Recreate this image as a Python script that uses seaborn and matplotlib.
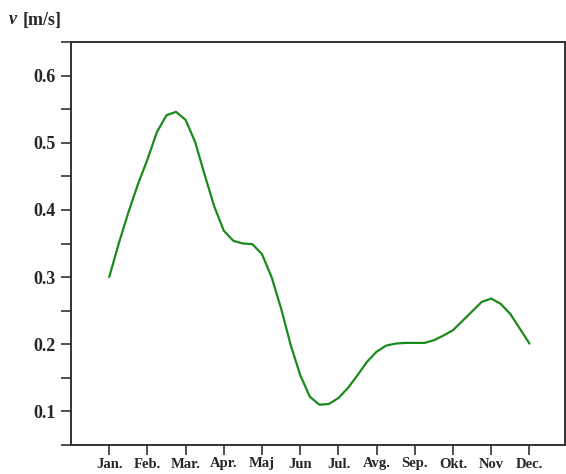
import numpy as np
import pandas as pd
import matplotlib
matplotlib.use('Agg')
import matplotlib.pyplot as plt
from matplotlib.ticker import MultipleLocator
import seaborn as sns

# month labels (as printed on the chart)
months = ['Jan.', 'Feb.', 'Mar.', 'Apr.', 'Maj', 'Jun', 'Jul.', 'Avg.', 'Sep.', 'Okt.', 'Nov', 'Dec.']

# curve every quarter month (1 = Jan), speed in m/s
month_pos = [1.0, 1.25, 1.5, 1.75, 2.0, 2.25, 2.5, 2.75, 3.0, 3.25, 3.5, 3.75,
             4.0, 4.25, 4.5, 4.75, 5.0, 5.25, 5.5, 5.75, 6.0, 6.25, 6.5, 6.75,
             7.0, 7.25, 7.5, 7.75, 8.0, 8.25, 8.5, 8.75, 9.0, 9.25, 9.5, 9.75,
             10.0, 10.25, 10.5, 10.75, 11.0, 11.25, 11.5, 11.75, 12.0]
speed = [0.300, 0.350, 0.396, 0.438, 0.475, 0.516, 0.541, 0.546, 0.534, 0.501, 0.452, 0.405,
         0.369, 0.354, 0.350, 0.349, 0.334, 0.300, 0.253, 0.199, 0.154, 0.122, 0.110, 0.111,
         0.120, 0.135, 0.154, 0.174, 0.189, 0.198, 0.201, 0.202, 0.202, 0.202, 0.206, 0.213,
         0.221, 0.235, 0.249, 0.263, 0.268, 0.260, 0.245, 0.223, 0.201]

df = pd.DataFrame({'month': month_pos, 'v': speed})

sns.set_style('ticks')
plt.rcParams['font.family'] = ['Liberation Serif', 'DejaVu Serif']
plt.rcParams['font.weight'] = 'bold'

fig = plt.figure(figsize=(5.66, 4.74), dpi=100)
ax = fig.add_axes([71 / 566, 29 / 474, 494 / 566, 403 / 474])

sns.lineplot(data=df, x='month', y='v', color='#1a8a1a', linewidth=1.6, ax=ax)

ax.set_xlim(0, 12.93)
ax.set_ylim(0.05, 0.65)
ax.set_xticks(range(1, 13))
ax.set_xticklabels(months)
ax.set_yticks([0.1, 0.2, 0.3, 0.4, 0.5, 0.6])
ax.yaxis.set_minor_locator(MultipleLocator(0.05))
ax.set_xlabel('')
ax.set_ylabel('')

for side in ['left', 'bottom', 'top', 'right']:
    ax.spines[side].set_visible(True)
    ax.spines[side].set_color('#333333')
    ax.spines[side].set_linewidth(1.4)

ax.tick_params(axis='both', which='both', direction='out', color='#333333', width=1.2)
ax.tick_params(axis='y', which='major', length=7, labelsize=13, pad=4)
ax.tick_params(axis='y', which='minor', length=7)
ax.tick_params(axis='x', which='major', length=7, labelsize=10.5, pad=2)
ax.tick_params(top=False, right=False)
for lbl in ax.get_xticklabels() + ax.get_yticklabels():
    lbl.set_fontweight('bold')

fig.text(9 / 566, 1 - 20 / 474, 'v', fontsize=13, fontstyle='italic', fontweight='bold',
         va='center', ha='left')
fig.text(23 / 566, 1 - 20 / 474, '[m/s]', fontsize=13, fontweight='bold', va='center', ha='left')

fig.savefig('out.png', dpi=100)
